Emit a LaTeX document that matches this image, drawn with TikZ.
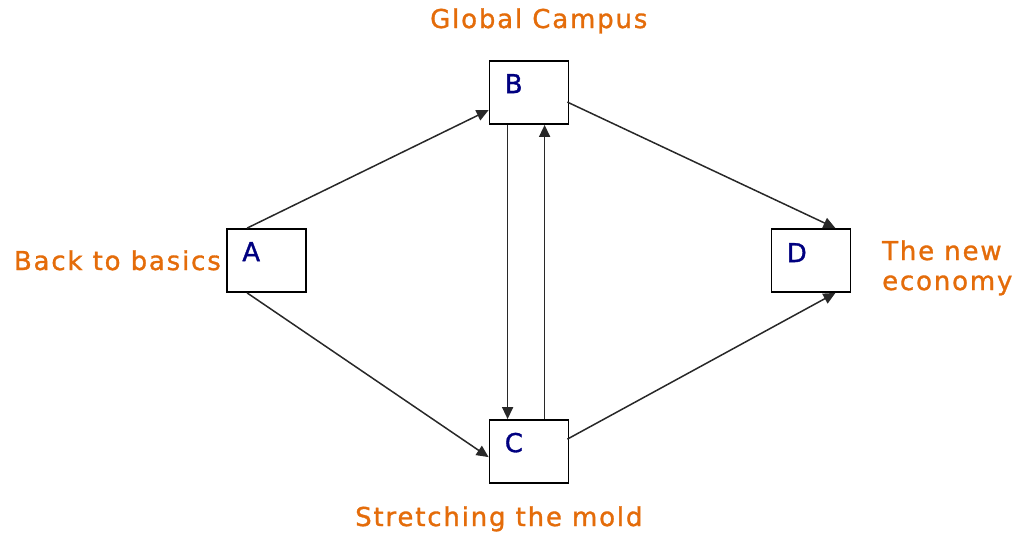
\documentclass[tikz,border=0pt]{standalone}
\usepackage{fontspec}
\setmainfont{DejaVu Sans}[LetterSpace=7,FakeBold=1.2]
\usetikzlibrary{calc,arrows.meta}
\definecolor{lblorange}{RGB}{228,108,10}
\definecolor{ltrblue}{RGB}{0,0,128}
\definecolor{linegray}{RGB}{40,40,40}
\begin{document}
\begin{tikzpicture}[x=1pt,y=-1pt,
  box/.style={draw=black,line width=1.8pt,fill=white,inner sep=0pt,minimum width=79pt,minimum height=63pt},
  ltr/.style={anchor=base west,text=ltrblue,font=\fontsize{26}{30}\selectfont,inner sep=0pt},
  lbl/.style={text=lblorange,font=\fontsize{26}{30}\selectfont,inner sep=0pt},
  conn/.style={draw=linegray,line width=1.5pt,-{Triangle[length=12pt,width=11pt]}}]
\useasboundingbox (0,0) rectangle (1012,533);
\node[box] (A) at (266.5,260.5) {};
\node[box] (B) at (529,92.5) {};
\node[box] (C) at (529,451.5) {};
\node[box] (D) at (811,260.5) {};
\node[ltr] (la) at ($(A.north west)+(16,33)$) {A};
\node[ltr] (lb) at ($(B.north west)+(16,33)$) {B};
\node[ltr] (lc) at ($(C.north west)+(16,33)$) {C};
\node[ltr] (ld) at ($(D.north west)+(16,34)$) {D};
\node[lbl,anchor=base west] (tb) at (430,28) {Global Campus};
\node[lbl,anchor=base west] (tc) at (355,526) {Stretching the mold};
\node[lbl,anchor=base east] (ta) at (221,270) {Back to basics};
\node[lbl,anchor=base west,align=left] (td) at (882,290) {The new\\economy};
\draw[conn] ($(A.north west)+(21,0)$) -- ($(B.north west)+(0,50)$);
\draw[conn] ($(A.south west)+(21,0)$) -- ($(C.north west)+(0,38)$);
\draw[conn] ($(B.south west)+(19,0)$) -- ($(C.north west)+(19,0)$);
\draw[conn] ($(C.north west)+(56,0)$) -- ($(B.south west)+(56,0)$);
\draw[conn] ($(B.north east)+(-2,42)$) -- ($(D.north east)+(-16,0)$);
\draw[conn] ($(C.north east)+(-2,20)$) -- ($(D.south east)+(-16,0)$);
\end{tikzpicture}
\end{document}
